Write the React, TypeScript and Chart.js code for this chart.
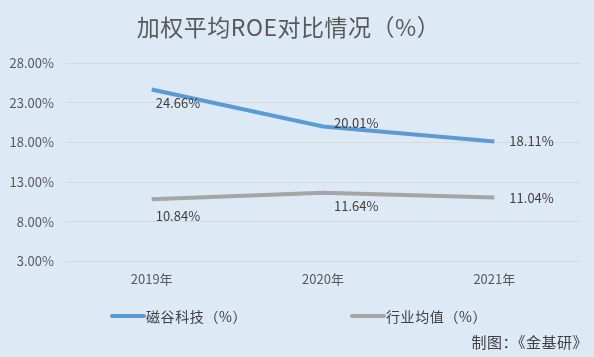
import React, { useEffect, useRef } from "react";
import { Chart, registerables } from "chart.js";

Chart.register(...registerables);

const categories = ["2019年", "2020年", "2021年"];
const seriesCompany = [24.66, 20.01, 18.11];
const seriesIndustry = [10.84, 11.64, 11.04];
const yTicks = [3, 8, 13, 18, 23, 28];
const seriesNames = ["磁谷科技（%）", "行业均值（%）"];
const titleText = "加权平均ROE对比情况（%）";
const sourceText = "制图：《金基研》";

const FONT = "'Noto Sans CJK SC', 'Noto Sans', sans-serif";
const BG = "#dde9f5";
const BLUE = "#5b9bd5";
const GRAY = "#a5a5a5";

// label offsets (left edge dx, center dy) relative to each point
const labelOffsets = [
  [[4, 14], [11, -3], [15, 0]],
  [[4, 17], [11, 13], [15, 0]],
];

const labelPlugin = {
  id: "pointLabels",
  afterDatasetsDraw(chart: any) {
    const ctx = chart.ctx;
    ctx.save();
    ctx.font = `13px ${FONT}`;
    ctx.fillStyle = "#404040";
    ctx.textBaseline = "middle";
    ctx.textAlign = "left";
    chart.data.datasets.forEach((ds: any, di: number) => {
      const meta = chart.getDatasetMeta(di);
      meta.data.forEach((pt: any, i: number) => {
        const txt = ds.data[i].toFixed(2) + "%";
        const [dx, dy] = labelOffsets[di][i];
        ctx.fillText(txt, pt.x + dx, pt.y + dy);
      });
    });
    ctx.restore();
  },
};

export default function App() {
  const ref = useRef<HTMLCanvasElement | null>(null);
  useEffect(() => {
    document.body.style.margin = "0";
    const chart = new Chart(ref.current!, {
      type: "line",
      data: {
        labels: categories,
        datasets: [
          {
            label: seriesNames[0],
            data: seriesCompany,
            borderColor: BLUE,
            backgroundColor: BLUE,
            borderWidth: 4,
            pointRadius: 0,
            tension: 0,
          },
          {
            label: seriesNames[1],
            data: seriesIndustry,
            borderColor: GRAY,
            backgroundColor: GRAY,
            borderWidth: 4,
            pointRadius: 0,
            tension: 0,
          },
        ],
      },
      options: {
        animation: false,
        responsive: false,
        maintainAspectRatio: false,
        layout: { padding: { top: 63, right: 14, bottom: 60, left: 6 } },
        plugins: {
          legend: { display: false },
          tooltip: { enabled: false },
          title: { display: false },
        },
        scales: {
          x: {
            offset: true,
            grid: { display: false, drawTicks: false },
            border: { display: false },
            ticks: {
              color: "#595959",
              font: { family: FONT, size: 13 },
              padding: 10,
            },
          },
          y: {
            min: 3,
            max: 28,
            afterBuildTicks: (axis: any) => {
              axis.ticks = yTicks.map((v) => ({ value: v }));
            },
            afterFit: (axis: any) => {
              axis.width = 60;
            },
            grid: { color: "#d9d9d9", drawTicks: false, lineWidth: 1 },
            border: { display: false },
            ticks: {
              color: "#595959",
              font: { family: FONT, size: 13 },
              padding: 12,
              callback: (v: any) => Number(v).toFixed(2) + "%",
            },
          },
        },
      },
      plugins: [labelPlugin],
    });
    return () => chart.destroy();
  }, []);

  return (
    <div
      style={{
        position: "relative",
        width: 594,
        height: 357,
        background: BG,
        fontFamily: FONT,
        overflow: "hidden",
      }}
    >
      <canvas ref={ref} width={594} height={357} style={{ display: "block" }} />
      <div
        style={{
          position: "absolute",
          top: 11,
          left: 0,
          width: 577,
          textAlign: "center",
          fontSize: 23,
          letterSpacing: 0.5,
          color: "#595959",
          lineHeight: "30px",
        }}
      >
        {titleText}
      </div>
      <div
        style={{
          position: "absolute",
          top: 307,
          left: 110,
          display: "flex",
          alignItems: "center",
          fontSize: 14,
          letterSpacing: 0.6,
          color: "#404040",
          lineHeight: "18px",
        }}
      >
        <span style={{ display: "inline-block", width: 36, height: 4, background: BLUE, borderRadius: 2 }} />
        <span style={{ display: "inline-block", width: 204 }}>{seriesNames[0]}</span>
        <span style={{ display: "inline-block", width: 36, height: 4, background: GRAY, borderRadius: 2 }} />
        <span>{seriesNames[1]}</span>
      </div>
      <div
        style={{
          position: "absolute",
          top: 333,
          right: 6,
          fontSize: 15,
          letterSpacing: 0.5,
          color: "#404040",
          lineHeight: "18px",
        }}
      >
        {sourceText}
      </div>
    </div>
  );
}
